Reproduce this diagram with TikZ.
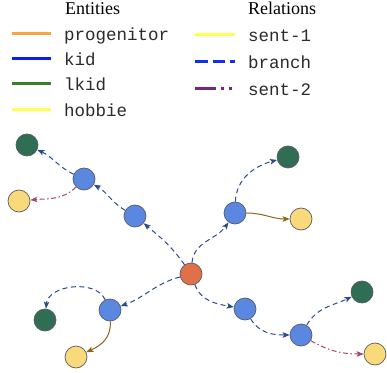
\documentclass[tikz,border=0pt]{standalone}
\usepackage{fontspec}
\setmainfont{Liberation Serif}
\setmonofont{Liberation Mono}
\usetikzlibrary{arrows.meta}

\definecolor{progfill}{HTML}{E07047}
\definecolor{kidfill}{HTML}{5A88E0}
\definecolor{lkidfill}{HTML}{2F6E53}
\definecolor{hobfill}{HTML}{F9D979}
\definecolor{nodeline}{HTML}{5A5A68}
\definecolor{branchcol}{HTML}{2B4C8C}
\definecolor{sentonecol}{HTML}{8A6A1A}
\definecolor{senttwocol}{HTML}{A04C72}
\definecolor{legprog}{HTML}{F4A640}
\definecolor{legkid}{HTML}{0A1EF0}
\definecolor{leglkid}{HTML}{3A7F2A}
\definecolor{legyellow}{HTML}{FFFF4D}
\definecolor{legbranch}{HTML}{1030F0}
\definecolor{legsenttwo}{HTML}{7A2585}
\definecolor{legtext}{HTML}{2A2A2A}

\tikzset{
  ent/.style={circle, minimum size=22pt, inner sep=0pt, draw=nodeline, line width=0.7pt},
  prog/.style={ent, fill=progfill},
  kid/.style={ent, fill=kidfill},
  lkid/.style={ent, fill=lkidfill},
  hob/.style={ent, fill=hobfill},
  tip/.style={-{Stealth[length=7pt,width=5.5pt,inset=1.5pt]}},
  branch/.style={tip, draw=branchcol, line width=1pt, dash pattern=on 5pt off 3.5pt},
  sentone/.style={tip, draw=sentonecol, line width=1pt},
  senttwo/.style={tip, draw=senttwocol, line width=1pt, dash pattern=on 5pt off 2.5pt on 1.5pt off 2.5pt},
  legline/.style={line width=3pt},
  head/.style={anchor=base west, inner sep=0pt, font=\fontsize{18}{20}\selectfont},
  leglabel/.style={anchor=base west, inner sep=0pt, text=legtext, font=\ttfamily\fontsize{17.5}{20}\selectfont}
}

\begin{document}
\begin{tikzpicture}[x=1pt,y=1pt]
\useasboundingbox (0,0) rectangle (387,372);

% legend: entity types
\node[head] (enthead) at (65,357) {Entities};
\draw[legline, legprog]   (12,338) -- (51,338);
\draw[legline, legkid]    (12,313) -- (51,313);
\draw[legline, leglkid]   (12,288) -- (51,288);
\draw[legline, legyellow] (12,262) -- (51,262);
\node[leglabel] (lprog) at (64,331) {progenitor};
\node[leglabel] (lkid)  at (64,306) {kid};
\node[leglabel] (llkid) at (64,281) {lkid};
\node[leglabel] (lhob)  at (64,255) {hobbie};

% legend: relation types
\node[head] (relhead) at (248,357) {Relations};
\draw[legline, legyellow] (195,337) -- (235,337);
\draw[legline, legbranch, dash pattern=on 12.5pt off 5pt] (195,310) -- (235,310);
\draw[legline, legsenttwo, dash pattern=on 21pt off 5pt on 3pt off 5pt on 3pt off 5pt] (195,283) -- (235,283);
\node[leglabel] (lsone) at (248,330) {sent-1};
\node[leglabel] (lbr)   at (248,303) {branch};
\node[leglabel] (lstwo) at (248,276) {sent-2};

% entities
\node[prog] (P)  at (191,98) {};
\node[kid]  (B1) at (135,156) {};
\node[kid]  (B2) at (84,193) {};
\node[lkid] (G1) at (27,227) {};
\node[hob]  (Y1) at (19,171) {};
\node[kid]  (B3) at (235,159) {};
\node[lkid] (G2) at (288,215) {};
\node[hob]  (Y2) at (301,153) {};
\node[kid]  (B4) at (110,62) {};
\node[lkid] (G3) at (45,52) {};
\node[hob]  (Y3) at (76,15) {};
\node[kid]  (B5) at (245,63) {};
\node[kid]  (B6) at (301,37) {};
\node[lkid] (G4) at (362,80) {};
\node[hob]  (Y4) at (375,18) {};

% relations
\draw[branch]  (P)  to[out=125, in=-40]  (B1);
\draw[branch]  (B1) to[out=150, in=-30]  (B2);
\draw[branch]  (B2) to[out=155, in=-25]  (G1);
\draw[senttwo] (B2) to[out=-135, in=5]   (Y1);
\draw[branch]  (P)  to[out=85, in=-125]  (B3);
\draw[branch]  (B3) to[out=88, in=195]   (G2);
\draw[sentone] (B3) to[out=0, in=180]    (Y2);
\draw[branch]  (P)  to[out=-165, in=20]  (B4);
\draw[branch]  (B4) to[out=115, in=85]   (G3);
\draw[sentone] (B4) to[out=-88, in=25, looseness=1.1] (Y3);
\draw[branch]  (P)  to[out=-70, in=170]  (B5);
\draw[branch]  (B5) to[out=-60, in=180]  (B6);
\draw[branch]  (B6) to[out=60, in=-155]  (G4);
\draw[senttwo] (B6) to[out=-30, in=180]  (Y4);
\end{tikzpicture}
\end{document}
